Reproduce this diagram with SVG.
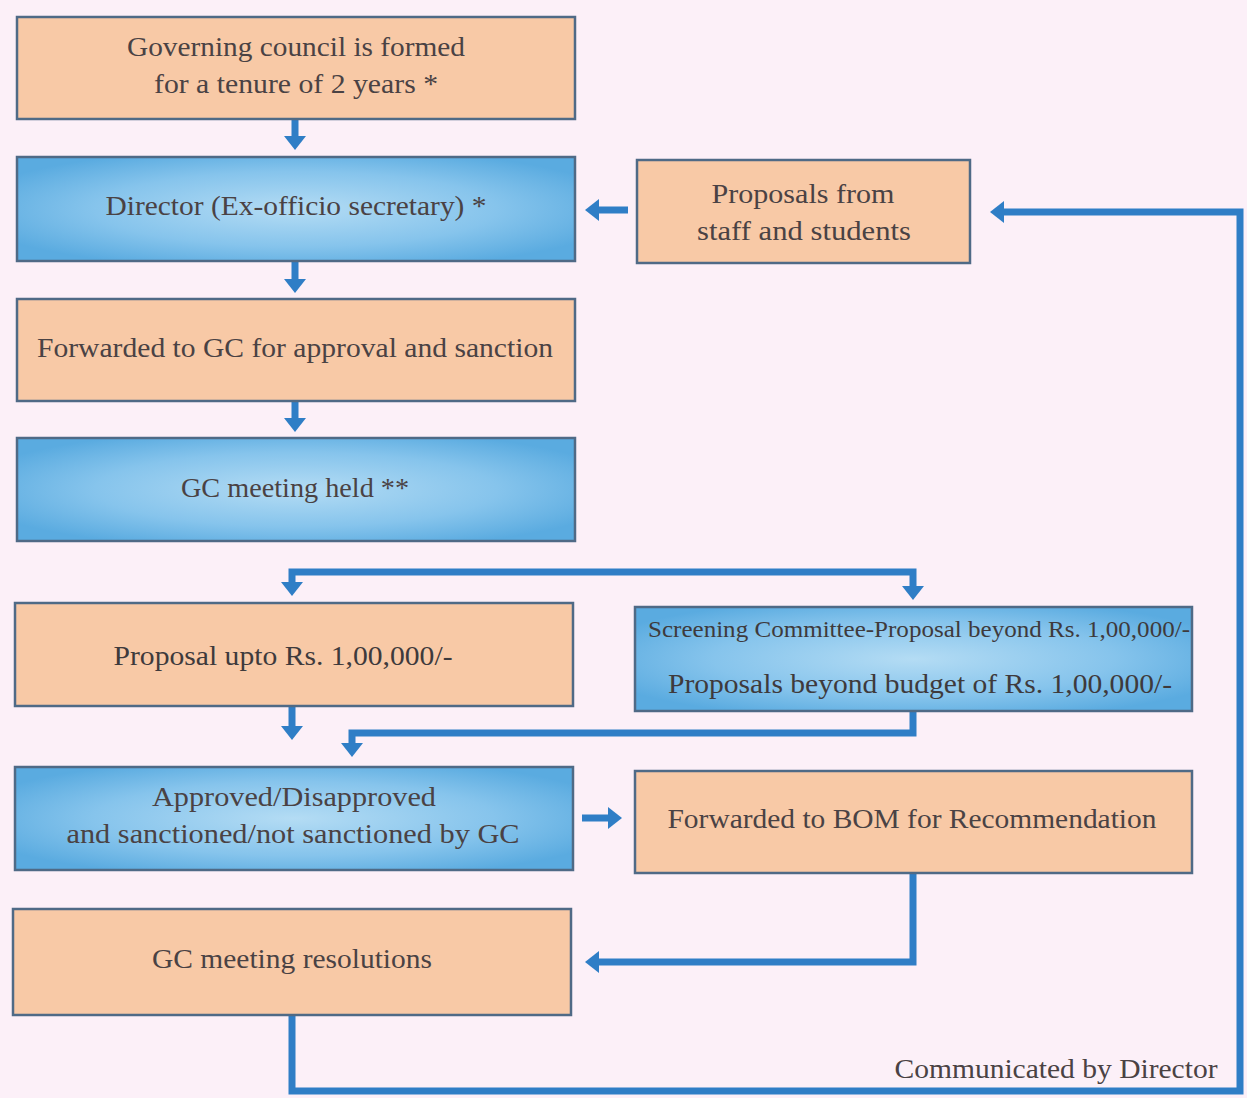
<svg xmlns="http://www.w3.org/2000/svg" width="1247" height="1098" viewBox="0 0 1247 1098">
<style>
.box{stroke:#4f6a86;stroke-width:2.5}
.or{fill:#f8c9a6}
.bl{fill:url(#blueg)}
.t{font-family:"Liberation Serif","DejaVu Serif",serif;font-size:28px;fill:#4a4244;text-anchor:middle}
.tt{font-family:"Liberation Serif",serif;fill:#3e3a3c;text-anchor:middle}
.c{fill:none;stroke:#2f7ec6;stroke-width:7}
</style>
<defs>
<radialGradient id="blueg" cx="0.5" cy="0.5" r="0.6">
<stop offset="0" stop-color="#b4dcf4"/>
<stop offset="0.6" stop-color="#86c4ec"/>
<stop offset="1" stop-color="#5aabe0"/>
</radialGradient>
<marker id="ah" markerUnits="userSpaceOnUse" markerWidth="14" markerHeight="22" viewBox="0 0 14 22" refX="2" refY="11" orient="auto">
<path d="M0,0 L14,11 L0,22 z" fill="#2f7ec6"/>
</marker>
</defs>
<rect width="1247" height="1098" fill="#fcf0f8"/>
<g id="connectors">
<path class="c" d="M295,119 V138" marker-end="url(#ah)"/>
<path class="c" d="M295,261 V281" marker-end="url(#ah)"/>
<path class="c" d="M295,401 V420" marker-end="url(#ah)"/>
<path class="c" d="M628,210 H597" marker-end="url(#ah)"/>
<path class="c" d="M292,1015 V1091 H1240 V212 H1002" marker-end="url(#ah)"/>
<path class="c" d="M600,572 H292 V584" marker-end="url(#ah)"/>
<path class="c" d="M600,572 H913 V588" marker-end="url(#ah)"/>
<path class="c" d="M292,706 V728" marker-end="url(#ah)"/>
<path class="c" d="M913,711 V733 H352 V745" marker-end="url(#ah)"/>
<path class="c" d="M582,818 H610" marker-end="url(#ah)"/>
<path class="c" d="M913,873 V962 H597" marker-end="url(#ah)"/>
</g>
<g id="n1"><rect class="box or" x="17" y="17" width="558" height="102"/>
<text class="t" x="296" y="56" textLength="338" lengthAdjust="spacingAndGlyphs">Governing council is formed</text>
<text class="t" x="296" y="93" textLength="284" lengthAdjust="spacingAndGlyphs">for a tenure of 2 years *</text></g>
<g id="n2"><rect class="box bl" x="17" y="157" width="558" height="104"/>
<text class="t" x="296" y="215" textLength="381" lengthAdjust="spacingAndGlyphs">Director (Ex-officio secretary) *</text></g>
<g id="n3"><rect class="box or" x="637" y="160" width="333" height="103"/>
<text class="t" x="803" y="203" textLength="183" lengthAdjust="spacingAndGlyphs">Proposals from</text>
<text class="t" x="804" y="240" textLength="214" lengthAdjust="spacingAndGlyphs">staff and students</text></g>
<g id="n4"><rect class="box or" x="17" y="299" width="558" height="102"/>
<text class="t" x="295" y="357" textLength="516" lengthAdjust="spacingAndGlyphs">Forwarded to GC for approval and sanction</text></g>
<g id="n5"><rect class="box bl" x="17" y="438" width="558" height="103"/>
<text class="t" x="295" y="497" textLength="228" lengthAdjust="spacingAndGlyphs">GC meeting held **</text></g>
<g id="n6"><rect class="box or" x="15" y="603" width="558" height="103"/>
<text class="tt" x="283" y="665" font-size="27" textLength="339" lengthAdjust="spacingAndGlyphs">Proposal upto Rs. 1,00,000/-</text></g>
<g id="n7"><rect class="box bl" x="635" y="607" width="557" height="104"/>
<text class="tt" x="919" y="637" font-size="23" textLength="542" lengthAdjust="spacingAndGlyphs">Screening Committee-Proposal beyond Rs. 1,00,000/-</text>
<text class="tt" x="920" y="693" font-size="27" textLength="504" lengthAdjust="spacingAndGlyphs">Proposals beyond budget of Rs. 1,00,000/-</text></g>
<g id="n8"><rect class="box bl" x="15" y="767" width="558" height="103"/>
<text class="t" x="294" y="806" textLength="284" lengthAdjust="spacingAndGlyphs">Approved/Disapproved</text>
<text class="t" x="293" y="843" textLength="453" lengthAdjust="spacingAndGlyphs">and sanctioned/not sanctioned by GC</text></g>
<g id="n9"><rect class="box or" x="635" y="771" width="557" height="102"/>
<text class="t" x="912" y="828" textLength="489" lengthAdjust="spacingAndGlyphs">Forwarded to BOM for Recommendation</text></g>
<g id="n10"><rect class="box or" x="13" y="909" width="558" height="106"/>
<text class="t" x="292" y="968" textLength="280" lengthAdjust="spacingAndGlyphs">GC meeting resolutions</text></g>
<text class="t" x="1056" y="1078" textLength="323" lengthAdjust="spacingAndGlyphs">Communicated by Director</text>
</svg>
